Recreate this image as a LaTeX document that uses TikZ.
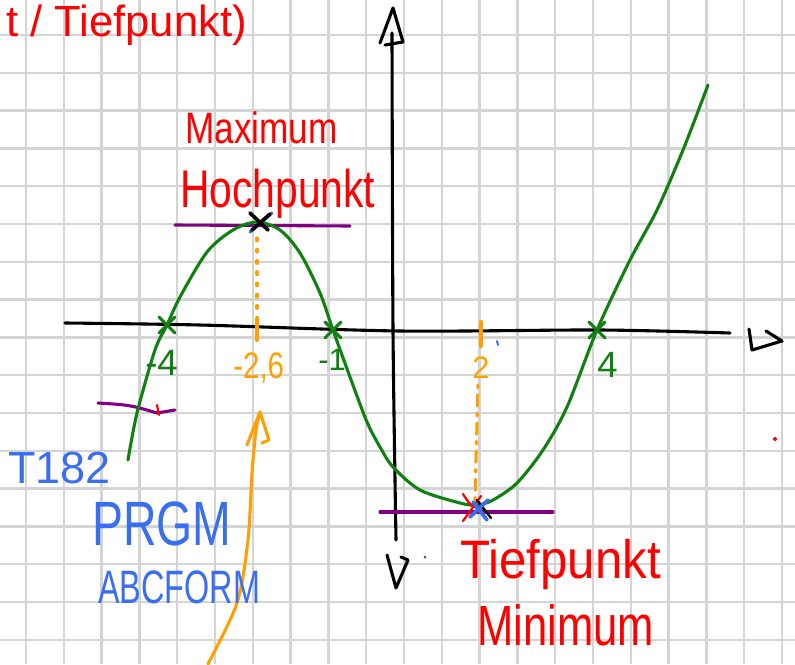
\documentclass[tikz,border=0pt]{standalone}
\usepackage{graphicx}
\usepackage{fontspec}
\newfontfamily\handfont{Liberation Sans}
\newcommand{\penfont}[1]{\handfont\fontsize{#1}{#1}\selectfont}
\definecolor{penred}{RGB}{255,0,0}
\definecolor{pengreen}{RGB}{16,128,16}
\definecolor{penblue}{RGB}{58,110,240}
\definecolor{penorange}{RGB}{255,160,0}
\definecolor{penpurple}{RGB}{128,0,128}
\definecolor{gridgray}{RGB}{212,212,212}
\begin{document}
\begin{tikzpicture}[x=0.025cm, y=-0.025cm,
    pen/.style={line width=2.2pt, line cap=round, line join=round},
    hand/.style={inner sep=0pt, anchor=base west}]
    \useasboundingbox (0,0) rectangle (795,664);
    \clip (0,0) rectangle (795,664);
    \fill[white] (0,0) rectangle (795,664);

    % Grid
    \foreach \gx in {0,...,20}
        \draw[gridgray, line width=1.6pt] (26+37.8*\gx,0) -- (26+37.8*\gx,664);
    \foreach \gy in {0,...,16}
        \draw[gridgray, line width=1.6pt] (0,35+37.8*\gy) -- (795,35+37.8*\gy);

    % Axes
    \draw[pen] plot[smooth] coordinates {(65,323) (200,325) (400,331) (600,330) (730,333)};
    \draw[pen] (749,329) -- (752,350) -- (782,341) -- (766,331);
    \draw[pen] plot[smooth] coordinates {(392,33) (393,330) (396,540)};
    \draw[pen] (380,43) -- (393,8) -- (403,42) -- (385,45);
    \draw[pen] (387,555) -- (396,588) -- (408,560) -- (401,557);

    % Tangents
    \draw[pen, penpurple] (175,225) -- (350,226);
    \draw[pen, penpurple] (380,512) -- (553,512);
    \draw[pen, penpurple] (98,403) .. controls (130,405) .. (157,413) -- (175,410);
    \draw[pen, penred, line width=1.6pt] (157,405) -- (159,415);

    % Orange guides
    \draw[pen, penorange, dash pattern=on 2pt off 6pt] (257,238) -- (257,312);
    \draw[pen, penorange, line width=3pt] (257,318) -- (257,340);
    \draw[pen, penorange, line width=3pt] (481,322) -- (481,346);
    \draw[pen, penorange, dash pattern=on 2pt off 5pt on 8pt off 5pt] (478,385) -- (475,500);
    \draw[pen, penorange] plot[smooth] coordinates {(208,664) (237,603) (248,540) (252,473) (256,430) (260,413)};
    \draw[pen, penorange] (247,445) -- (260,412) -- (269,440) -- (262,443);

    % Graph
    \draw[pen, pengreen] plot[smooth] coordinates {(128,460) (137,413) (155,350) (167,325) (180,297)
        (207,252) (233,230) (257,222) (280,230) (300,253) (320,293) (333,330) (350,377) (367,422)
        (380,447) (393,467) (420,490) (460,503) (477,505) (493,500) (517,483) (543,450) (567,407)
        (597,330) (630,260) (657,210) (683,150) (708,85)};

    % Zeros
    \foreach \zx/\zy in {167/325, 333/330, 597/330}
        \draw[pen, pengreen] (\zx-8,\zy-8) -- (\zx+8,\zy+8) (\zx-8,\zy+8) -- (\zx+8,\zy-8);

    % Extrema
    \draw[pen, penblue] (250,232) -- (272,213);
    \draw[pen, line width=2.6pt] (250,213) -- (268,230) (270,214) -- (252,230);
    \draw[pen, penred, line width=1.6pt] (463,494) .. controls (470,505) .. (482,510);
    \draw[pen, penred, line width=1.6pt] (481,496) -- (463,521);
    \draw[pen, line width=1.6pt] (477,500) -- (491,518);
    \draw[pen, penblue, line width=2.6pt] (470,517) -- (488,500) (473,502) -- (487,520);

    % Stray marks
    \fill[penred] (775,439) circle (2);
    \fill[pengreen] (425,557) circle (1.5);
    \draw[pen, penblue, line width=1.4pt] (497,341) -- (498,345);

    % Labels
    \node[hand, anchor=base east, text=penred, font=\penfont{31}] (topnote) at (247,36) {t / Tiefpunkt)};
    \node[hand, text=penred, font=\penfont{25}] (maxlabel) at (185,143) {\scalebox{1}[1.25]{Maximum}};
    \node[hand, text=penred, font=\penfont{29}] (hochlabel) at (180,207) {\scalebox{1}[1.3]{Hochpunkt}};
    \node[hand, text=penred, font=\penfont{35}] (tieflabel) at (460,578) {\scalebox{1}[1.1]{Tiefpunkt}};
    \node[hand, text=penred, font=\penfont{31}] (minlabel) at (477,645) {\scalebox{1}[1.3]{Minimum}};
    \node[hand, text=pengreen, font=\penfont{26}] (zeroa) at (145,375) {-4};
    \node[hand, text=pengreen, font=\penfont{22}] (zerob) at (318,370) {-1};
    \node[hand, text=pengreen, font=\penfont{26}] (zeroc) at (597,377) {4};
    \node[hand, text=penorange, font=\penfont{21}] (maxx) at (233,378) {\scalebox{1}[1.25]{-2,6}};
    \node[hand, text=penorange, font=\penfont{22}] (minx) at (472,378) {2};
    \node[hand, text=penblue, font=\penfont{32}] (calc) at (8,483) {T182};
    \node[hand, text=penblue, font=\penfont{33}] (prgm) at (92,545) {\scalebox{1}[1.35]{PRGM}};
    \node[hand, text=penblue, font=\penfont{23}] (abc) at (98,603) {\scalebox{1}[1.45]{ABCFORM}};
\end{tikzpicture}
\end{document}
